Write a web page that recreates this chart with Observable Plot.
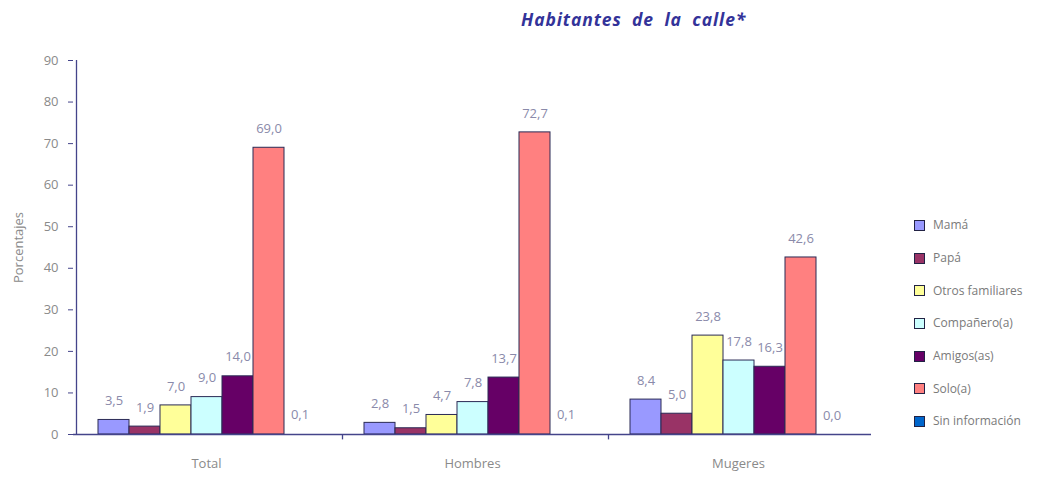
<!DOCTYPE html>
<html><head><meta charset="utf-8">
<script src="https://cdn.jsdelivr.net/npm/d3@7"></script>
<script src="https://cdn.jsdelivr.net/npm/@observablehq/plot@0.6"></script>
<style>
body{margin:0;background:#fff;font-family:"Open Sans",sans-serif;}
#wrap{position:relative;width:1061px;height:479px;overflow:hidden;}
#title{position:absolute;left:521px;top:7px;font-size:17.5px;font-weight:bold;font-style:italic;color:#333399;word-spacing:5px;letter-spacing:0.9px;white-space:nowrap;}
#chart{position:absolute;left:0;top:40px;}
#legend{position:absolute;left:914px;top:209px;font-size:12px;color:#7a7a7a;}
.li{display:flex;align-items:center;height:32.7px;line-height:1;}
.sw{width:9px;height:9px;border:1px solid #222244;margin-right:8px;}
</style></head><body>
<div id="wrap"><div id="title">Habitantes de la calle*</div><div id="chart"></div><div id="legend"></div></div>
<script>
const groups = ["Total", "Hombres", "Mugeres"];
const series = ["Mamá", "Papá", "Otros familiares", "Compañero(a)", "Amigos(as)", "Solo(a)", "Sin información"];
const colors = ["#9999ff", "#993366", "#ffff99", "#ccffff", "#660066", "#ff8080", "#0066cc"];
const totalValues = [3.5, 1.9, 7.0, 9.0, 14.0, 69.0, 0.1];
const hombresValues = [2.8, 1.5, 4.7, 7.8, 13.7, 72.7, 0.1];
const mugeresValues = [8.4, 5.0, 23.8, 17.8, 16.3, 42.6, 0.0];
const yTicks = [0, 10, 20, 30, 40, 50, 60, 70, 80, 90];

const valuesByGroup = [totalValues, hombresValues, mugeresValues];
const data = groups.flatMap((g, gi) => series.map((s, si) => ({group: g, series: s, value: valuesByGroup[gi][si]})));
const fmt = v => v.toFixed(1).replace(".", ",");
const axisColor = "#44448a";

const chart = Plot.plot({
  width: 1061,
  height: 439,
  marginLeft: 72,
  marginRight: 189,
  marginTop: 20,
  marginBottom: 45,
  style: {fontFamily: "'Open Sans', sans-serif", background: "transparent"},
  fx: {domain: groups, padding: 0},
  x: {domain: series, paddingInner: 0, paddingOuter: 0.67, axis: null},
  y: {domain: [0, 90], axis: null},
  color: {domain: series, range: colors},
  marks: [
    Plot.axisY({ticks: yTicks, tickSize: 5, tickPadding: 10, fontSize: 13, color: "#8a8a8a", stroke: axisColor,
      label: "Porcentajes", labelAnchor: "center", labelOffset: 60, labelArrow: false}),
    Plot.axisFx({anchor: "bottom", tickSize: 0, tickPadding: 24, fontSize: 13, color: "#8a8a8a", label: null}),
    Plot.barY(data.filter(d => d.value >= 0.5), {fx: "group", x: "series", y: "value", fill: "series", stroke: "#2a2a55", strokeWidth: 1}),
    Plot.ruleY([0], {stroke: axisColor, strokeWidth: 1.3}),
    Plot.ruleX(groups.slice(0, 1), {fx: d => d, x: () => series[0], y1: 0, y2: 90, dx: -37.5, stroke: axisColor, strokeWidth: 1.3}),
    Plot.ruleX(groups.slice(1), {fx: d => d, x: () => series[0], y1: 0, y2: -1.3, dx: -37.5, stroke: axisColor, strokeWidth: 1.3}),
    Plot.text(data, {fx: "group", x: "series", y: "value", text: d => fmt(d.value), dy: -19, fontSize: 13, fill: "#8a8aaa"})
  ]
});
document.getElementById("chart").appendChild(chart);

const legend = document.getElementById("legend");
series.forEach((s, i) => {
  const row = document.createElement("div");
  row.className = "li";
  const sw = document.createElement("div");
  sw.className = "sw";
  sw.style.background = colors[i];
  const t = document.createElement("span");
  t.textContent = s;
  row.appendChild(sw); row.appendChild(t);
  legend.appendChild(row);
});
</script>
</body></html>
